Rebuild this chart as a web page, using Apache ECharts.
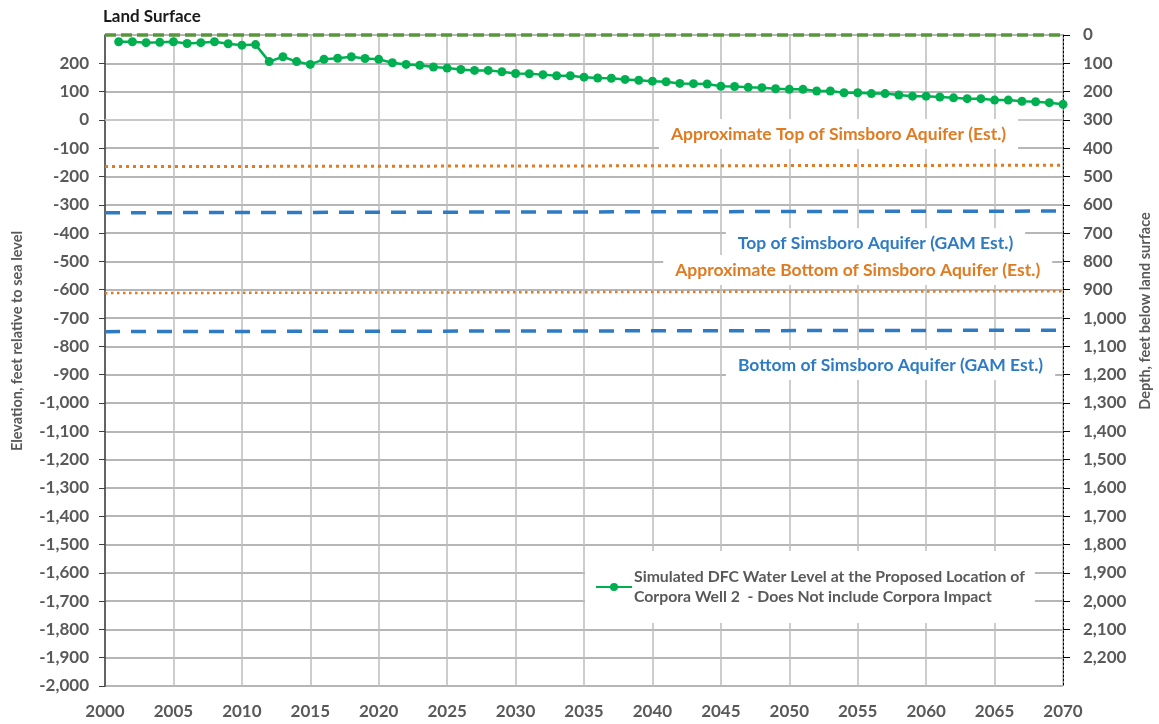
<!DOCTYPE html>
<html><head><meta charset="utf-8">
<script src="https://cdn.jsdelivr.net/npm/echarts@6/dist/echarts.min.js"></script>
<style>html,body{margin:0;padding:0;background:#fff}#c{width:1159px;height:724px}</style>
</head><body><div id="c"></div>
<script>
// ---- data ----
const years = [2001,2002,2003,2004,2005,2006,2007,2008,2009,2010,
  2011,2012,2013,2014,2015,2016,2017,2018,2019,2020,
  2021,2022,2023,2024,2025,2026,2027,2028,2029,2030,
  2031,2032,2033,2034,2035,2036,2037,2038,2039,2040,
  2041,2042,2043,2044,2045,2046,2047,2048,2049,2050,
  2051,2052,2053,2054,2055,2056,2057,2058,2059,2060,
  2061,2062,2063,2064,2065,2066,2067,2068,2069,2070];
const waterLevel = [276,276,273,274,276,270,273,276,269,264,
  266,206,223,206,196,214,218,223,217,214,
  202,196,193,187,183,178,175,175,170,164,
  163,160,156,156,151,148,147,143,140,137,
  135,129,128,127,119,118,115,114,110,108,
  108,102,102,96,96,93,93,88,84,84,
  81,78,75,75,70,70,66,64,61,55];
const lineYears = [2000, 2070];
const landSurface = [300, 300];
const approxTop = [-165, -160];
const gamTop = [-328, -322];
const approxBottom = [-612, -605];
const gamBottom = [-748, -743];
const seriesName = 'Simulated DFC Water Level at the Proposed Location of\nCorpora Well 2  - Does Not include Corpora Impact';
const annoText = ['Approximate Top of Simsboro Aquifer (Est.)','Top of Simsboro Aquifer (GAM Est.)','Approximate Bottom of Simsboro Aquifer (Est.)','Bottom of Simsboro Aquifer (GAM Est.)'];
const annoYear = [2053.6, 2056.3, 2055.0, 2057.4];
const annoElev = [-50, -436, -530, -866];
const annoColor = ['#e07b22','#2e7bc4','#e07b22','#2e7bc4'];

const FONT = 'Lato, "Open Sans", sans-serif';
const GRAY = '#595959';
const pair = (xs, ys) => xs.map((x, i) => [x, ys[i]]);

const chart = echarts.init(document.getElementById('c'), null, {renderer: 'canvas'});
const refLine = (name, vals, color, width, dash) => ({
  name, type: 'line', data: pair(lineYears, vals), symbol: 'none', silent: true,
  clip: false, z: 3,
  lineStyle: {color, width, type: dash}
});
chart.setOption({
  animation: false,
  backgroundColor: '#fff',
  grid: {left: 105, right: 96, top: 35, bottom: 38, containLabel: false},
  xAxis: {
    type: 'value', min: 2000, max: 2070, interval: 5,
    axisLine: {show: true, lineStyle: {color: '#cfcfcf', width: 1.5}},
    axisTick: {show: false},
    axisLabel: {color: GRAY, fontFamily: FONT, fontWeight: 'bold', fontSize: 17, margin: 17,
      formatter: v => String(v)},
    splitLine: {show: true, lineStyle: {color: '#bdbdbd', width: 1.5}}
  },
  yAxis: [{
    type: 'value', min: -2000, max: 300, interval: 100, position: 'left',
    axisLine: {show: true, lineStyle: {color: '#404040', width: 1.5}},
    axisTick: {show: true, length: 6, lineStyle: {color: '#404040'}},
    axisLabel: {color: GRAY, fontFamily: FONT, fontWeight: 'bold', fontSize: 17, margin: 16, showMaxLabel: false},
    splitLine: {show: true, lineStyle: {color: '#9e9e9e', width: 1.5}}
  }, {
    type: 'value', min: 0, max: 2300, interval: 100, position: 'right', inverse: true,
    axisLine: {show: true, lineStyle: {color: '#000', width: 1, type: [2, 2]}},
    axisTick: {show: true, inside: false, length: 7, lineStyle: {color: '#000', width: 1}},
    axisLabel: {color: GRAY, fontFamily: FONT, fontWeight: 'bold', fontSize: 17, margin: 20, showMaxLabel: false},
    splitLine: {show: false}
  }],
  legend: {
    data: [seriesName],
    left: 585, top: 551,
    backgroundColor: '#fff', padding: [6, 10, 6, 10],
    itemWidth: 36, itemHeight: 10, itemGap: 0,
    textStyle: {color: GRAY, fontFamily: FONT, fontWeight: 'bold', fontSize: 15.8, lineHeight: 20, padding: [20, 0, 0, -3]}
  },
  series: [
    refLine('Land Surface line', landSurface, '#58963a', 3.5, [11, 5]),
    refLine('Approx top', approxTop, '#e07b22', 3, [3, 4]),
    refLine('GAM top', gamTop, '#2e7bc4', 3.5, [15, 11]),
    refLine('Approx bottom', approxBottom, '#e07b22', 2.5, [2.5, 3.5]),
    refLine('GAM bottom', gamBottom, '#2e7bc4', 3.5, [15, 11]),
    {
      name: seriesName, type: 'line', data: pair(years, waterLevel),
      symbol: 'circle', symbolSize: 9, z: 5,
      itemStyle: {color: '#00b050'},
      lineStyle: {color: '#00b050', width: 2.5}
    }
  ]
});

const g = [
  {type: 'text', x: 103, y: 17, style: {text: 'Land Surface', fill: '#1a1a1a', font: 'bold 17px ' + FONT, verticalAlign: 'middle'}},
  {type: 'text', x: 17, y: 341, rotation: Math.PI / 2, style: {text: 'Elevation, feet relative to sea level', fill: GRAY, font: 'bold 14.5px ' + FONT, align: 'center', verticalAlign: 'middle'}},
  {type: 'text', x: 1145, y: 311, rotation: Math.PI / 2, style: {text: 'Depth, feet below land surface', fill: GRAY, font: 'bold 14.5px ' + FONT, align: 'center', verticalAlign: 'middle'}}
];
annoText.forEach((t, i) => {
  const p = chart.convertToPixel({gridIndex: 0}, [annoYear[i], annoElev[i]]);
  g.push({type: 'text', x: p[0], y: p[1], z: 2, style: {text: t, fill: annoColor[i], font: 'bold 17.5px ' + FONT,
    align: 'center', verticalAlign: 'middle', backgroundColor: '#fff', padding: [6, 12]}});
});
chart.setOption({graphic: g});
</script></body></html>
